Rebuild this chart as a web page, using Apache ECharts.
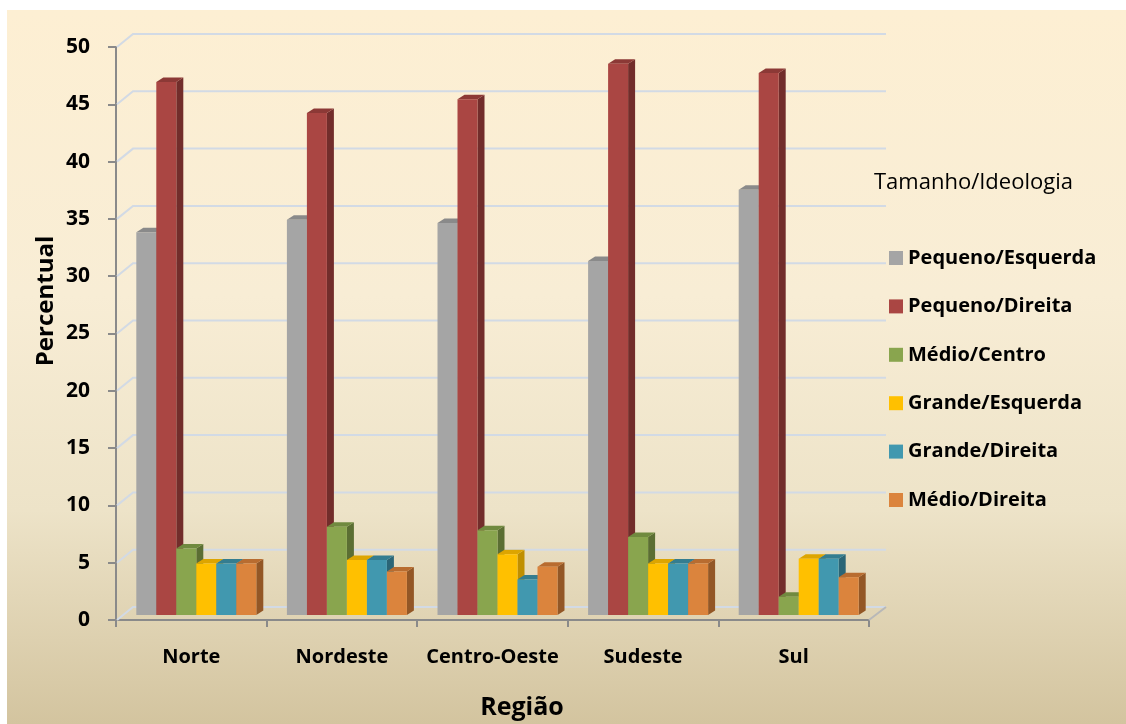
<!DOCTYPE html>
<html>
<head>
<meta charset="utf-8">
<script src="https://cdn.jsdelivr.net/npm/echarts@6/dist/echarts.min.js"></script>
<style>
html,body{margin:0;padding:0;background:#fff;}
#chart{width:1126px;height:724px;}
</style>
</head>
<body>
<div id="chart"></div>
<script>
// ---- data ----
const categories = ['Norte', 'Nordeste', 'Centro-Oeste', 'Sudeste', 'Sul'];
const seriesNames = ['Pequeno/Esquerda', 'Pequeno/Direita', 'Médio/Centro', 'Grande/Esquerda', 'Grande/Direita', 'Médio/Direita'];
const pequenoEsquerda = [33.4, 34.5, 34.2, 30.9, 37.1];
const pequenoDireita  = [46.5, 43.8, 45.0, 48.1, 47.3];
const medioCentro     = [5.8, 7.7, 7.4, 6.8, 1.6];
const grandeEsquerda  = [4.5, 4.8, 5.3, 4.5, 4.9];
const grandeDireita   = [4.5, 4.8, 3.1, 4.5, 4.9];
const medioDireita    = [4.5, 3.8, 4.2, 4.5, 3.3];
const yTicks = [0, 5, 10, 15, 20, 25, 30, 35, 40, 45, 50];

const seriesValues = [pequenoEsquerda, pequenoDireita, medioCentro, grandeEsquerda, grandeDireita, medioDireita];
// front / side / top colours
const palette = [
  ['#A5A5A5', '#737373', '#8A8A8A'],
  ['#AA4643', '#722D2B', '#8C3936'],
  ['#89A54E', '#5B6E33', '#708A3F'],
  ['#FFC000', '#C08F00', '#DDA500'],
  ['#4198AF', '#2A6576', '#347D90'],
  ['#DB843D', '#935726', '#B86C30']
];

const FONT = '"Open Sans", "Liberation Sans", sans-serif';
const DEPTH_X = 7, DEPTH_Y = 4.5;   // bar depth
const FLOOR_X = 5, FLOOR_Y = 5;     // bar placement inside the floor
const WALL_X = 17, WALL_Y = 13;     // back wall offset
const GRID_COLOR = '#D2DAE5';

const chart = echarts.init(document.getElementById('chart'), null, {renderer: 'canvas'});

function makeBarRender(sIdx) {
  const col = palette[sIdx];
  return function (params, api) {
    const ci = api.value(0), v = api.value(1);
    const base = api.coord([ci, 0]);
    const top = api.coord([ci, v]);
    const band = api.size([1, 0])[0];
    const bw = band * 20 / 150.6;
    const x0 = base[0] + (sIdx - 3) * bw + FLOOR_X;
    const x1 = x0 + bw;
    const yb = base[1] - FLOOR_Y;
    const yt = top[1] - FLOOR_Y;
    return {
      type: 'group',
      children: [
        {type: 'polygon', shape: {points: [[x1, yt], [x1 + DEPTH_X, yt - DEPTH_Y], [x1 + DEPTH_X, yb - DEPTH_Y], [x1, yb]]}, style: {fill: col[1]}},
        {type: 'polygon', shape: {points: [[x0, yt], [x0 + DEPTH_X, yt - DEPTH_Y], [x1 + DEPTH_X, yt - DEPTH_Y], [x1, yt]]}, style: {fill: col[2]}},
        {type: 'rect', shape: {x: x0, y: yt, width: bw, height: yb - yt}, style: {fill: col[0]}}
      ]
    };
  };
}

function wallRender(params, api) {
  const v = api.value(1);
  const p = api.coord([0, v]);
  const cs = params.coordSys;
  const y = p[1];
  const children = [
    {type: 'polyline', shape: {points: [[cs.x + 1, y], [cs.x + WALL_X, y - WALL_Y], [cs.x + cs.width + WALL_X, y - WALL_Y]]}, style: {stroke: GRID_COLOR, lineWidth: 2, fill: null}}
  ];
  if (v === 0) {
    children.push({type: 'line', shape: {x1: cs.x + cs.width, y1: y, x2: cs.x + cs.width + WALL_X, y2: y - WALL_Y}, style: {stroke: '#B8B8B8', lineWidth: 2}});
  }
  return {type: 'group', children: children};
}

const series = [{
  type: 'custom',
  name: 'wall',
  silent: true,
  clip: false,
  z: 1,
  renderItem: wallRender,
  data: yTicks.map(t => [0, t])
}];
seriesNames.forEach((name, i) => {
  series.push({
    type: 'custom',
    name: name,
    clip: false,
    z: 3,
    itemStyle: {color: palette[i][0]},
    renderItem: makeBarRender(i),
    encode: {x: 0, y: 1},
    data: seriesValues[i].map((v, ci) => [ci, v])
  });
});

const option = {
  backgroundColor: '#ffffff',
  animation: false,
  graphic: [
    {type: 'rect', z: -100, silent: true, shape: {x: 7, y: 10, width: 1119, height: 714},
     style: {fill: new echarts.graphic.LinearGradient(0, 0, 0, 1, [
       {offset: 0, color: '#FDEFD3'},
       {offset: 0.4, color: '#F8EDD5'},
       {offset: 0.7, color: '#EDE3C8'},
       {offset: 1, color: '#D3C49F'}
     ])}},
    {type: 'text', x: 522, y: 708, silent: true,
     style: {text: 'Região', font: 'bold 25px ' + FONT, fill: '#000', align: 'center', verticalAlign: 'middle'}},
    {type: 'text', x: 46, y: 301, rotation: Math.PI / 2, silent: true,
     style: {text: 'Percentual', font: 'bold 24px ' + FONT, fill: '#000', align: 'center', verticalAlign: 'middle'}}
  ],
  title: {
    text: 'Tamanho/Ideologia',
    left: 869, top: 167,
    textStyle: {fontFamily: FONT, fontSize: 22, fontWeight: 'normal', color: '#000'}
  },
  legend: {
    orient: 'vertical',
    left: 884, top: 243,
    itemWidth: 14, itemHeight: 14,
    itemGap: 28.4,
    icon: 'rect',
    data: seriesNames,
    textStyle: {fontFamily: FONT, fontSize: 20, fontWeight: 'bold', color: '#000', lineHeight: 20}
  },
  grid: {left: 116, right: 257, top: 47, bottom: 104, containLabel: false},
  xAxis: {
    type: 'category',
    data: categories,
    boundaryGap: true,
    axisLine: {show: true, lineStyle: {color: '#8A8A8A', width: 2}},
    axisTick: {show: true, length: 7, interval: 0, lineStyle: {color: '#8A8A8A', width: 2}},
    axisLabel: {margin: 27, interval: 0, fontFamily: FONT, fontSize: 20, fontWeight: 'bold', color: '#000'},
    splitLine: {show: false}
  },
  yAxis: {
    type: 'value',
    min: 0, max: 50, interval: 5,
    axisLine: {show: true, lineStyle: {color: '#8A8A8A', width: 2}},
    axisTick: {show: true, length: 8, lineStyle: {color: '#8A8A8A', width: 2}},
    axisLabel: {margin: 26, fontFamily: FONT, fontSize: 21, fontWeight: 'bold', color: '#000'},
    splitLine: {show: false}
  },
  series: series
};
chart.setOption(option);
</script>
</body>
</html>
